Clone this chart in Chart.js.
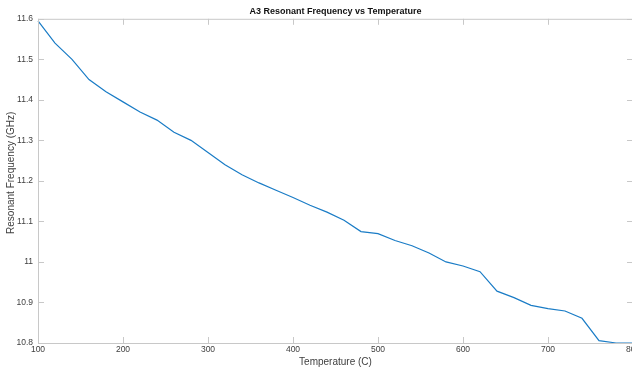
<!DOCTYPE html>
<html>
<head>
<meta charset="utf-8">
<script src="https://cdn.jsdelivr.net/npm/chart.js@4.4.1/dist/chart.umd.min.js"></script>
<style>
  html, body { margin: 0; padding: 0; background: #fff; }
  #wrap { width: 632px; height: 368px; overflow: hidden; position: relative; }
  canvas { display: block; }
</style>
</head>
<body>
<div id="wrap"><canvas id="c" width="660" height="368"></canvas></div>
<script>
// ==== dữ liệu ====
const temperatures = [100, 120, 140, 160, 180, 200, 220, 240, 260, 280, 300, 320, 340, 360, 380, 400,
    420, 440, 460, 480, 500, 520, 540, 560, 580, 600, 620, 640, 660, 680, 700, 720, 740, 760, 780, 800];
const frequencies = [11.595, 11.54, 11.50, 11.45, 11.42, 11.395, 11.37, 11.35, 11.32, 11.30, 11.27, 11.24,
    11.215, 11.195, 11.177, 11.159, 11.14, 11.123, 11.103, 11.075, 11.07, 11.053, 11.04, 11.022,
    11.0, 10.99, 10.976, 10.928, 10.912, 10.893, 10.885, 10.879, 10.861, 10.806, 10.8, 10.8];
const xTicks = [100, 200, 300, 400, 500, 600, 700, 800];
const yTicks = [10.8, 10.9, 11, 11.1, 11.2, 11.3, 11.4, 11.5, 11.6];
const yLabel = "Resonant Frequency (GHz)";

const axisGray = "#c8c8c8";
const textGray = "#404040";
const font = "'Liberation Sans', Arial, sans-serif";

// vẽ khung + vạch chia hướng vào trong (kiểu MATLAB)
const boxPlugin = {
    id: "box",
    afterDatasetsDraw(chart) {
        const { ctx, chartArea: a, scales } = chart;
        ctx.save();
        ctx.strokeStyle = axisGray;
        ctx.lineWidth = 1;
        ctx.strokeRect(a.left + 0.5, a.top + 0.5, a.right - a.left, a.bottom - a.top);
        ctx.beginPath();
        xTicks.forEach((v) => {
            const px = Math.round(scales.x.getPixelForValue(v)) + 0.5;
            ctx.moveTo(px, a.bottom); ctx.lineTo(px, a.bottom - 6);
            ctx.moveTo(px, a.top); ctx.lineTo(px, a.top + 6);
        });
        yTicks.forEach((v) => {
            const py = Math.round(scales.y.getPixelForValue(v)) + 0.5;
            ctx.moveTo(a.left, py); ctx.lineTo(a.left + 6, py);
            ctx.moveTo(a.right, py); ctx.lineTo(a.right - 6, py);
        });
        ctx.stroke();

        // nhãn trục y (đặt hơi cao hơn tâm như hình gốc)
        ctx.translate(11, scales.y.getPixelForValue(11.22));
        ctx.rotate(-Math.PI / 2);
        ctx.fillStyle = textGray;
        ctx.font = "10px " + font;
        ctx.textAlign = "center";
        ctx.textBaseline = "middle";
        ctx.fillText(yLabel, 0, 0);
        ctx.restore();
    },
};

new Chart(document.getElementById("c"), {
    type: "line",
    data: {
        datasets: [{
            data: temperatures.map((t, i) => ({ x: t, y: frequencies[i] })),
            borderColor: "#1a7cc6",
            borderWidth: 1.2,
            pointRadius: 0,
            tension: 0,
            clip: 2,
        }],
    },
    options: {
        responsive: false,
        animation: false,
        layout: { padding: { left: 0, right: 27, top: 0, bottom: 0 } },
        plugins: {
            legend: { display: false },
            tooltip: { enabled: false },
            title: {
                display: true,
                text: "A3 Resonant Frequency vs Temperature",
                fullSize: false,
                color: "#111",
                font: { family: font, size: 9, weight: "bold" },
                padding: { top: 6, bottom: 2 },
            },
        },
        scales: {
            x: {
                type: "linear",
                min: 100,
                max: 800,
                afterBuildTicks: (s) => { s.ticks = xTicks.map((v) => ({ value: v })); },
                afterFit: (s) => { s.height = 25; },
                grid: { display: false, drawTicks: false },
                border: { display: false },
                ticks: { color: textGray, font: { family: font, size: 8.5 }, padding: 2, maxRotation: 0 },
                title: {
                    display: true,
                    text: "Temperature (C)",
                    color: textGray,
                    font: { family: font, size: 10 },
                    padding: { top: 1, bottom: 0 },
                },
            },
            y: {
                min: 10.8,
                max: 11.6,
                afterBuildTicks: (s) => { s.ticks = yTicks.map((v) => ({ value: v })); },
                afterFit: (s) => { s.width = 38; },
                grid: { display: false, drawTicks: false },
                border: { display: false },
                ticks: {
                    color: textGray,
                    font: { family: font, size: 8.5 },
                    padding: 5,
                    callback: (v) => String(Math.round(v * 10) / 10),
                },
            },
        },
    },
    plugins: [boxPlugin],
});
</script>
</body>
</html>
